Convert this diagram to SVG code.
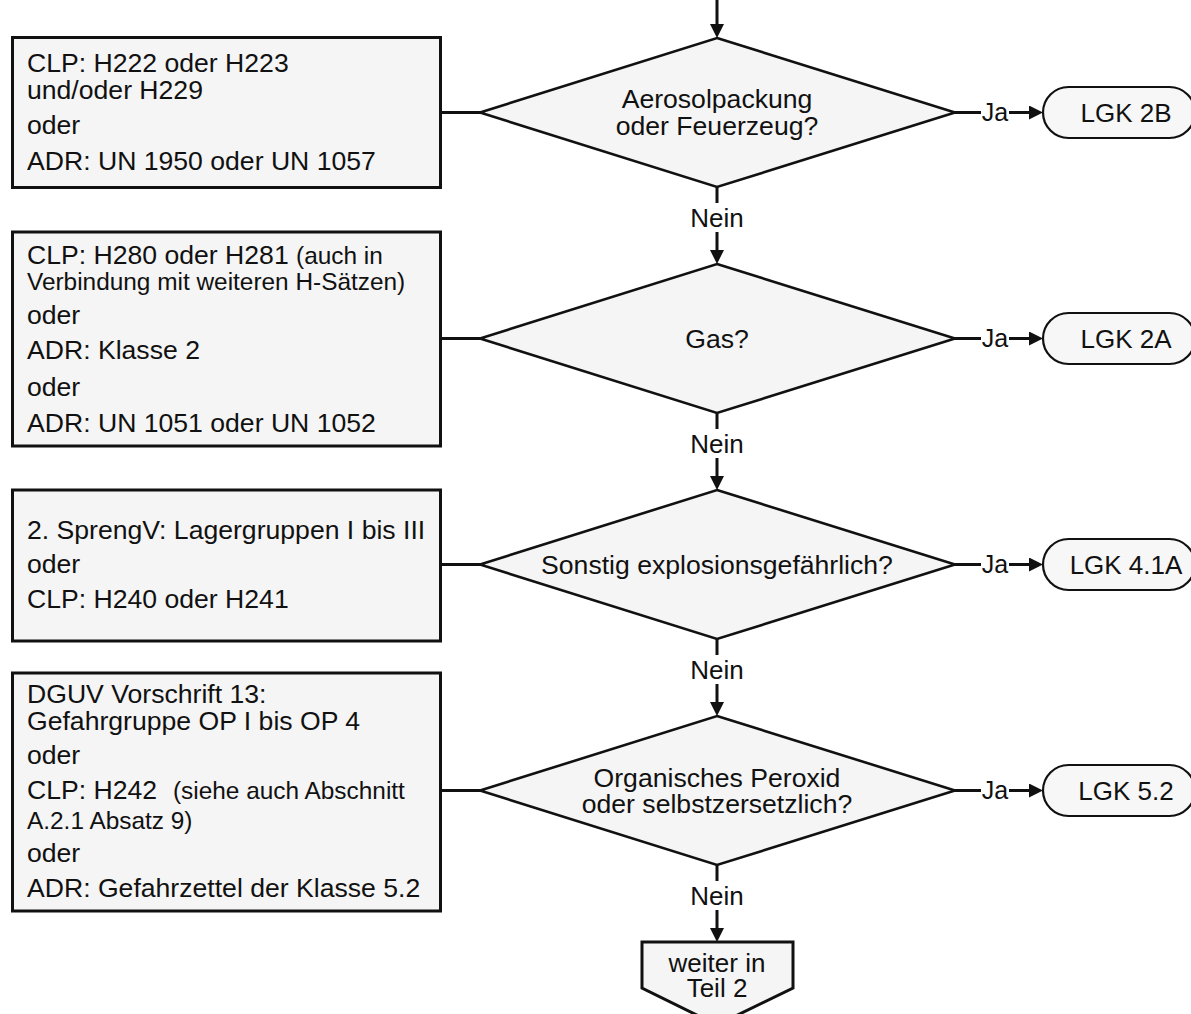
<svg xmlns="http://www.w3.org/2000/svg" width="1191" height="1014" viewBox="0 0 1191 1014">
<style>
text{font-family:"Liberation Sans",Arial,sans-serif;font-size:26.6px;fill:#111}
.box{fill:#f5f5f5;stroke:#111;stroke-width:3}
.dia{fill:#f5f5f5;stroke:#111;stroke-width:2.6}
.lgk{fill:#f7f7f7;stroke:#111;stroke-width:2.2}
.c{text-anchor:middle}
.s24{font-size:24.4px}
.ln{fill:none;stroke:#111;stroke-width:3}
.ar{fill:none;stroke:#111;stroke-width:3;marker-end:url(#ah)}
.lg{font-size:26px}
.ja{font-size:25px}
</style>
<defs>
<marker id="ah" viewBox="0 0 14 14" markerWidth="14" markerHeight="14" refX="6" refY="7" markerUnits="userSpaceOnUse" orient="auto">
<path d="M0,0 L14,7 L0,14 Z" fill="#111"/>
</marker>
</defs>
<rect width="1191" height="1014" fill="#fff"/>

<g id="connectors">
<path class="ar" d="M717,0 V30"/>
<path class="ln" d="M717,187 V203"/>
<path class="ar" d="M717,232 V256"/>
<path class="ln" d="M717,413 V429"/>
<path class="ar" d="M717,458 V482"/>
<path class="ln" d="M717,639 V655"/>
<path class="ar" d="M717,684 V708"/>
<path class="ln" d="M717,865 V881"/>
<path class="ar" d="M717,910 V934"/>
<path class="ln" d="M441,112.5 H481"/>
<path class="ln" d="M441,338.5 H481"/>
<path class="ln" d="M441,564.5 H481"/>
<path class="ln" d="M441,790.5 H481"/>
<path class="ln" d="M954,112.5 H981"/>
<path class="ar" d="M1009,112.5 H1035"/>
<path class="ln" d="M954,338.5 H981"/>
<path class="ar" d="M1009,338.5 H1035"/>
<path class="ln" d="M954,564.5 H981"/>
<path class="ar" d="M1009,564.5 H1035"/>
<path class="ln" d="M954,790.5 H981"/>
<path class="ar" d="M1009,790.5 H1035"/>
<text class="c lg" x="717" y="227">Nein</text>
<text class="c lg" x="717" y="453">Nein</text>
<text class="c lg" x="717" y="679">Nein</text>
<text class="c lg" x="717" y="905">Nein</text>
<text class="c ja" x="995" y="121">Ja</text>
<text class="c ja" x="995" y="347">Ja</text>
<text class="c ja" x="995" y="573">Ja</text>
<text class="c ja" x="995" y="799">Ja</text>
</g>

<g id="box1">
<rect class="box" x="12.5" y="37.5" width="428" height="150"/>
<text x="27" y="72">CLP: H222 oder H223</text>
<text x="27" y="99">und/oder H229</text>
<text x="27" y="134">oder</text>
<text x="27" y="170">ADR: UN 1950 oder UN 1057</text>
</g>

<g id="box2">
<rect class="box" x="12.5" y="232" width="428" height="214"/>
<text x="27" y="264">CLP: H280 oder H281 <tspan class="s24">(auch in</tspan></text>
<text x="27" y="290" class="s24">Verbindung mit weiteren H-Sätzen)</text>
<text x="27" y="324">oder</text>
<text x="27" y="359">ADR: Klasse 2</text>
<text x="27" y="396">oder</text>
<text x="27" y="432">ADR: UN 1051 oder UN 1052</text>
</g>

<g id="box3">
<rect class="box" x="12.5" y="490" width="428" height="151"/>
<text x="27" y="539">2. SprengV: Lagergruppen I bis III</text>
<text x="27" y="573">oder</text>
<text x="27" y="608">CLP: H240 oder H241</text>
</g>

<g id="box4">
<rect class="box" x="12.5" y="673" width="428" height="238"/>
<text x="27" y="703">DGUV Vorschrift 13:</text>
<text x="27" y="730">Gefahrgruppe OP I bis OP 4</text>
<text x="27" y="764">oder</text>
<text x="27" y="799">CLP: H242 <tspan x="173" class="s24">(siehe auch Abschnitt</tspan></text>
<text x="27" y="829" class="s24">A.2.1 Absatz 9)</text>
<text x="27" y="862">oder</text>
<text x="27" y="897">ADR: Gefahrzettel der Klasse 5.2</text>
</g>

<g id="d1">
<polygon class="dia" points="717,38 955,112.5 717,187 480,112.5"/>
<text class="c" x="717" y="108">Aerosolpackung</text>
<text class="c" x="717" y="135">oder Feuerzeug?</text>
</g>
<g id="d2">
<polygon class="dia" points="717,264 955,338.5 717,413 480,338.5"/>
<text class="c" x="717" y="348">Gas?</text>
</g>
<g id="d3">
<polygon class="dia" points="717,490 955,564.5 717,639 480,564.5"/>
<text class="c" x="717" y="574">Sonstig explosionsgefährlich?</text>
</g>
<g id="d4">
<polygon class="dia" points="717,716 955,790.5 717,865 480,790.5"/>
<text class="c" x="717" y="787">Organisches Peroxid</text>
<text class="c" x="717" y="813">oder selbstzersetzlich?</text>
</g>

<g id="lgk2b">
<rect class="lgk" x="1043" y="87" width="152" height="51" rx="25.5"/>
<text class="c lg" x="1126" y="122">LGK 2B</text>
</g>
<g id="lgk2a">
<rect class="lgk" x="1043" y="313" width="152" height="51" rx="25.5"/>
<text class="c lg" x="1126" y="348">LGK 2A</text>
</g>
<g id="lgk41a">
<rect class="lgk" x="1043" y="539" width="152" height="51" rx="25.5"/>
<text class="c lg" x="1126" y="574">LGK 4.1A</text>
</g>
<g id="lgk52">
<rect class="lgk" x="1043" y="765" width="152" height="51" rx="25.5"/>
<text class="c lg" x="1126" y="800">LGK 5.2</text>
</g>

<g id="teil2">
<polygon class="box" points="642,942 793,942 793,988 717,1025 642,988"/>
<text class="c lg" x="717" y="972">weiter in</text>
<text class="c lg" x="717" y="997">Teil 2</text>
</g>
</svg>
